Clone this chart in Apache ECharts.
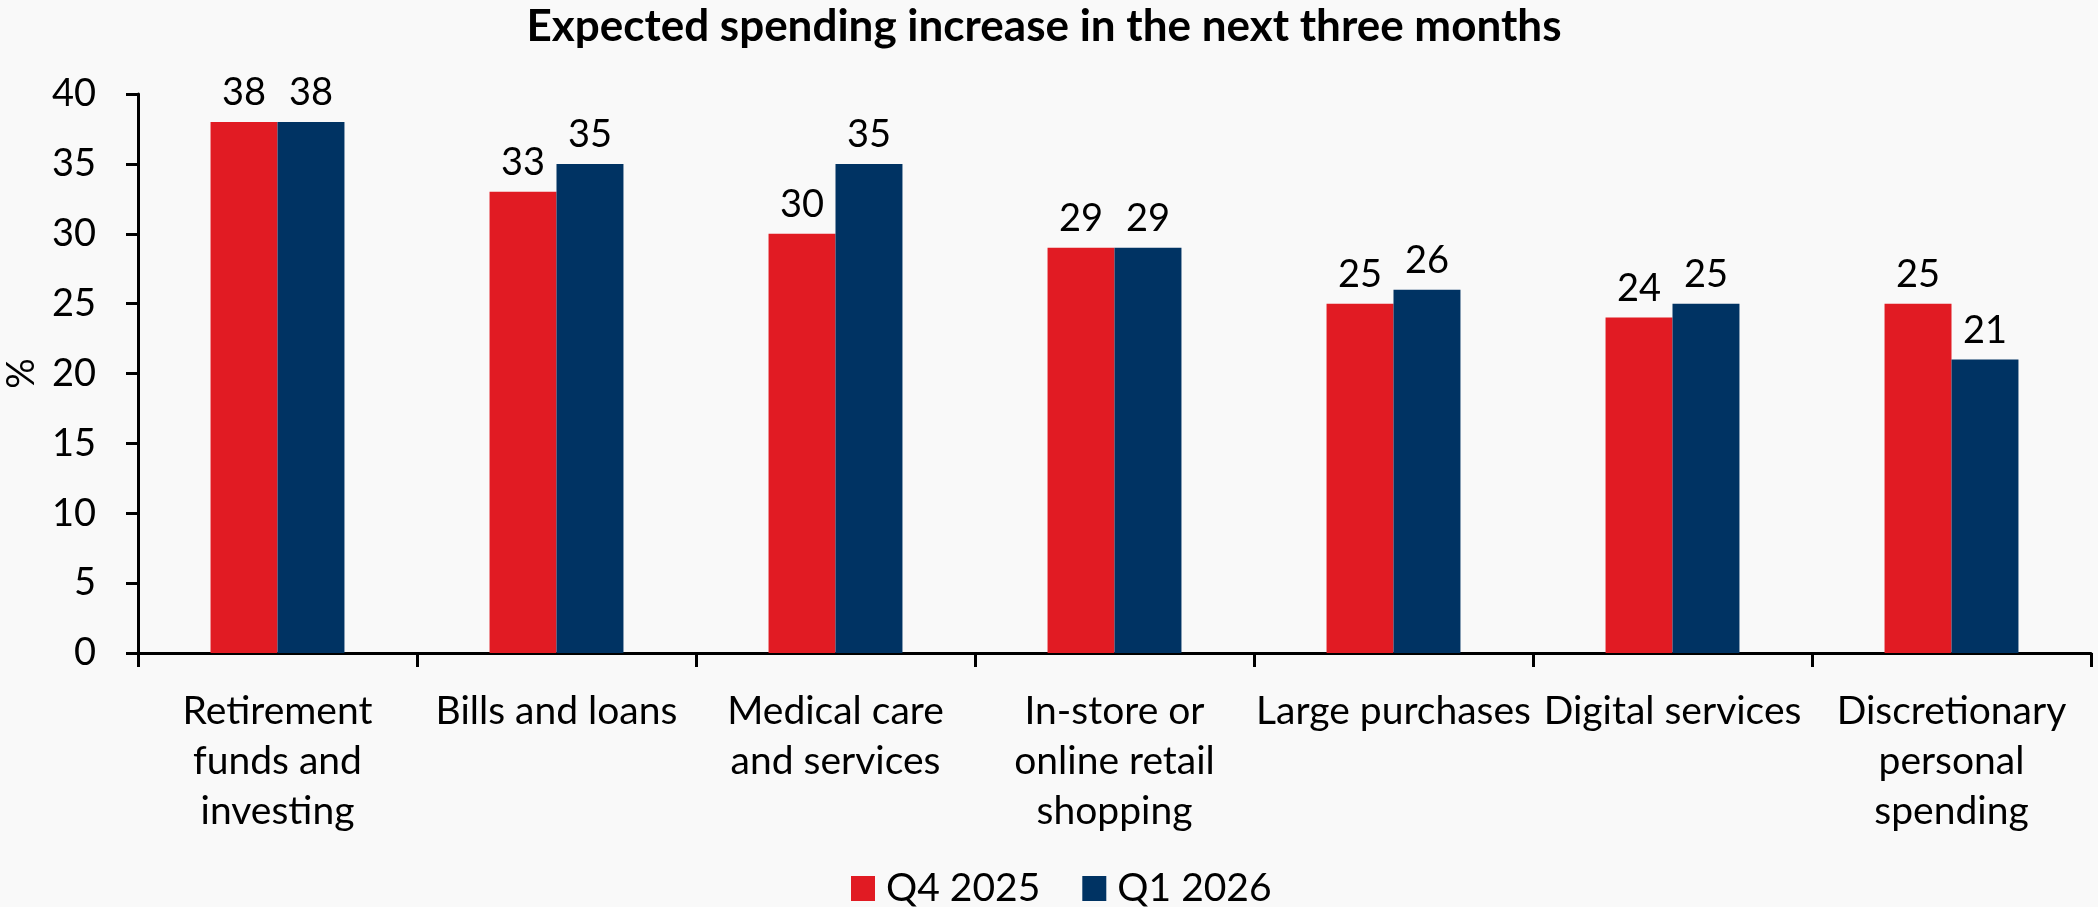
<!DOCTYPE html>
<html>
<head>
<meta charset="utf-8">
<script src="https://cdn.jsdelivr.net/npm/echarts@6/dist/echarts.min.js"></script>
<style>
  html, body { margin: 0; padding: 0; background: #f9f9f9; }
  #chart { width: 2098px; height: 907px; }
</style>
</head>
<body>
<div id="chart"></div>
<script>
// Expected spending increase by category, % of respondents
const categories = [
  'Retirement\nfunds and\ninvesting',
  'Bills and loans',
  'Medical care\nand services',
  'In-store or\nonline retail\nshopping',
  'Large purchases',
  'Digital services',
  'Discretionary\npersonal\nspending'
];
const seriesNames = ['Q4 2025', 'Q1 2026'];
const q4_2025 = [38, 33, 30, 29, 25, 24, 25];
const q1_2026 = [38, 35, 35, 29, 26, 25, 21];
const yTicks = { min: 0, max: 40, step: 5 };

const FONT = 'Lato, "Open Sans", sans-serif';
const RED = '#e11b23';
const NAVY = '#003363';

const chart = echarts.init(document.getElementById('chart'), null, { renderer: 'canvas' });

const labelStyle = {
  show: true,
  position: 'top',
  distance: 10,
  color: '#000',
  fontFamily: FONT,
  fontSize: 38
};

chart.setOption({
  backgroundColor: '#f9f9f9',
  animation: false,
  title: {
    text: 'Expected spending increase in the next three months',
    left: 1039,
    textAlign: 'center',
    top: 0,
    textStyle: { fontFamily: FONT, fontWeight: 'bold', fontSize: 44, color: '#000' }
  },
  legend: {
    bottom: -6,
    left: 846,
    itemWidth: 24,
    itemHeight: 25,
    itemGap: 42,
    icon: 'rect',
    textStyle: { fontFamily: FONT, fontSize: 39, color: '#000', padding: [0, 0, 0, 6] },
    data: seriesNames
  },
  grid: {
    left: 138, right: 7, top: 94, bottom: 254,
    containLabel: false,
    outerBoundsMode: 'none'
  },
  xAxis: {
    type: 'category',
    data: categories,
    axisLine: { show: true, lineStyle: { color: '#000', width: 3 } },
    axisTick: { show: true, length: 14, lineStyle: { color: '#000', width: 3 } },
    axisLabel: {
      interval: 0,
      hideOverlap: false,
      margin: 33,
      color: '#000',
      fontFamily: FONT,
      fontSize: 39,
      lineHeight: 50
    }
  },
  yAxis: {
    type: 'value',
    min: yTicks.min,
    max: yTicks.max,
    interval: yTicks.step,
    name: '%',
    nameLocation: 'middle',
    nameGap: 97,
    nameRotate: 90,
    nameTextStyle: { fontFamily: FONT, fontSize: 38, color: '#000' },
    axisLine: { show: true, lineStyle: { color: '#000', width: 3 } },
    axisTick: { show: true, length: 12, lineStyle: { color: '#000', width: 3 } },
    splitLine: { show: false },
    axisLabel: { margin: 42, color: '#000', fontFamily: FONT, fontSize: 38 }
  },
  series: [
    {
      name: seriesNames[0],
      type: 'bar',
      data: q4_2025,
      itemStyle: { color: RED },
      barGap: '0%',
      barCategoryGap: '52%',
      label: labelStyle
    },
    {
      name: seriesNames[1],
      type: 'bar',
      data: q1_2026,
      itemStyle: { color: NAVY },
      barGap: '0%',
      barCategoryGap: '52%',
      label: labelStyle
    }
  ]
});
</script>
</body>
</html>
